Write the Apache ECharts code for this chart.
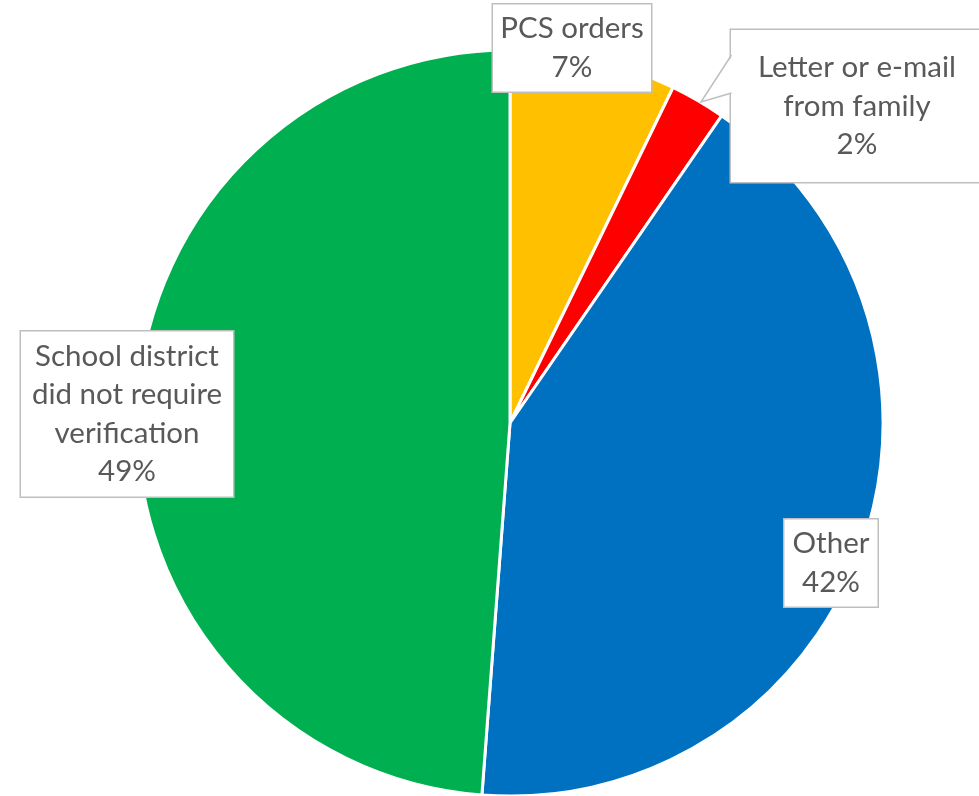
<!DOCTYPE html>
<html>
<head>
<meta charset="utf-8">
<script src="https://cdn.jsdelivr.net/npm/echarts@6/dist/echarts.min.js"></script>
<style>
  html, body { margin: 0; padding: 0; background: #ffffff; }
  #chart { width: 979px; height: 796px; }
</style>
</head>
<body>
<div id="chart"></div>
<script>
// Verification source categories and their shares (percent)
const categories = [
  'PCS orders',
  'Letter or e-mail\nfrom family',
  'Other',
  'School district\ndid not require\nverification'
];
const shares = [7.2, 2.4, 41.6, 48.8];
const sliceColors = ['#FFC000', '#FF0000', '#0070C0', '#00B050'];

// Label box placement (center x, center y, box width, box height)
const labelBoxes = [
  [572, 48, 158, 87],
  [857, 106, 252, 152],
  [831, 563, 93, 87],
  [127, 414, 212, 165]
];

const chart = echarts.init(document.getElementById('chart'));

const data = categories.map((name, i) => ({
  name: name,
  value: shares[i],
  itemStyle: { color: sliceColors[i] },
  label: {
    width: labelBoxes[i][2] - 20,
    height: labelBoxes[i][3] - 10
  }
}));

chart.setOption({
  animation: false,
  backgroundColor: '#ffffff',
  series: [{
    type: 'pie',
    center: [510, 423],
    radius: [0, 373],
    startAngle: 90,
    clockwise: true,
    data: data,
    itemStyle: { borderColor: '#ffffff', borderWidth: 3 },
    label: {
      show: true,
      position: 'outside',
      formatter: p => p.name + '\n' + Math.round(p.percent) + '%',
      fontFamily: 'Lato, "Open Sans", sans-serif',
      fontSize: 29.5,
      lineHeight: 38.5,
      color: '#595959',
      align: 'center',
      verticalAlign: 'middle',
      overflow: 'none',
      backgroundColor: '#ffffff',
      borderColor: '#BFBFBF',
      borderWidth: 1.5,
      padding: [5, 10]
    },
    labelLine: { show: false },
    labelLayout: function (params) {
      const b = labelBoxes[params.dataIndex];
      return { x: b[0], y: b[1], align: 'center', verticalAlign: 'middle', hideOverlap: false };
    }
  }],
  graphic: [
    {
      type: 'polygon',
      z: 100,
      shape: { points: [[733, 55], [701, 102], [733, 93]] },
      style: { fill: '#ffffff', stroke: null }
    },
    {
      type: 'polyline',
      z: 101,
      shape: { points: [[731.5, 55], [701, 102], [731.5, 93]] },
      style: { stroke: '#BFBFBF', lineWidth: 1.5, fill: null }
    }
  ]
});
</script>
</body>
</html>
